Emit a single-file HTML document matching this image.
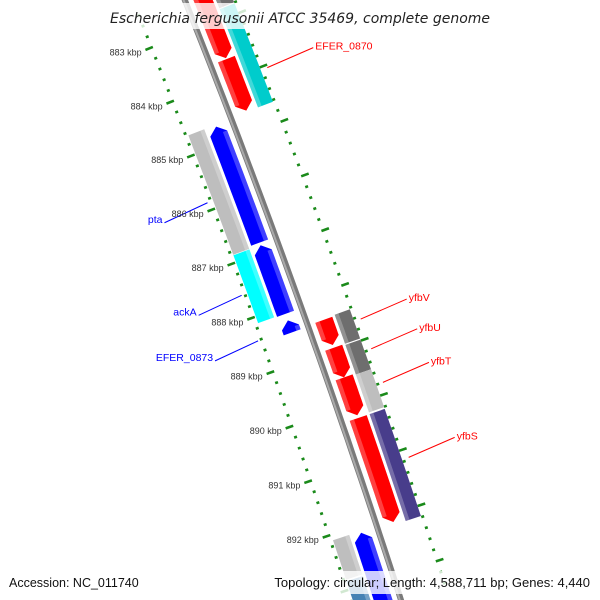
<!DOCTYPE html>
<html><head><meta charset="utf-8"><style>
html,body{margin:0;padding:0;background:#fff;width:600px;height:600px;overflow:hidden;}
svg{display:block;font-family:"DejaVu Sans","Liberation Sans",sans-serif;overflow:hidden;}
</style></head><body>
<svg id="map" width="600" height="600" viewBox="0 0 600 600" xmlns="http://www.w3.org/2000/svg">
<g id="ticks"></g>
<g id="backbone"></g>
<g id="features"></g>
<g id="labels"></g>
<g id="ticklabels"></g>
<rect x="108" y="3" width="384" height="26" fill="#fff" opacity="0.8"/>
<text x="300" y="23" text-anchor="middle" font-size="14" font-style="italic" fill="#222">Escherichia fergusonii ATCC 35469, complete genome</text>
<rect x="258" y="571" width="336" height="23" fill="#fff" opacity="0.8"/>
<text x="9" y="587" font-size="12.5" fill="#111" font-family="Liberation Sans, sans-serif">Accession: NC_011740</text>
<text x="590" y="587" text-anchor="end" font-size="13" fill="#111" font-family="Liberation Sans, sans-serif">Topology: circular; Length: 4,588,711 bp; Genes: 4,440</text>
</svg>
<script>
// feature data: [start kbp, end kbp]
const featStart = [882.3, 883.66, 888.45, 888.96, 889.50, 890.24, 882.3, 882.82, 888.43, 888.98, 889.52, 890.24, 884.68, 886.87, 888.25, 892.13, 884.65, 886.87, 892.10, 892.85];
const featEnd   = [883.64, 884.61, 888.91, 889.50, 890.19, 892.13, 882.80, 884.63, 888.96, 889.52, 890.21, 892.18, 886.82, 888.13, 888.47, 893.6, 886.86, 888.12, 892.82, 893.6];
const featRing  = ['r1','r1','r1','r1','r1','r1','r2','r2','r2','r2','r2','r2','l1','l1','l1','l1','l2','l2','l2','l2'];
const featColor = ['#ff0000','#ff0000','#ff0000','#ff0000','#ff0000','#ff0000','#6e6e6e','#00cccc','#6e6e6e','#6e6e6e','#bebebe','#483d8b','#0000ff','#0000ff','#0000ff','#0000ff','#bebebe','#00ffff','#bebebe','#4682b4'];
const featArrow = ['end','end','end','end','end','end','none','none','none','none','none','none','start','start','start','start','none','none','none','none'];
const tickMin = 882.4, tickMax = 893.4;
const tickLabelKbp = [883,884,885,886,887,888,889,890,891,892];
const labelText = ['EFER_0870','pta','ackA','EFER_0873','yfbV','yfbU','yfbT','yfbS'];
const labelKbp  = [884.05, 885.86, 887.57, 888.41, 888.65, 889.19, 889.8, 891.16];
const labelSide = [1,-1,-1,-1,1,1,1,1];
const labelColor= ['#ff0000','#0000ff','#0000ff','#0000ff','#ff0000','#ff0000','#ff0000','#ff0000'];

const NS='http://www.w3.org/2000/svg';
const R=9400, PX=58, alpha=Math.atan(0.36), P0=[299,301];
const C=[P0[0]-R*Math.cos(alpha), P0[1]+R*Math.sin(alpha)];
function pt(kbp,r){const th=-alpha+(kbp-888)*PX/R;const rr=R+r;return [C[0]+rr*Math.cos(th),C[1]+rr*Math.sin(th)];}
function mk(tag,attrs,parent){const e=document.createElementNS(NS,tag);for(const k in attrs)e.setAttribute(k,attrs[k]);parent.appendChild(e);return e;}
const ringR={r1:[8,26],r2:[29,45],l1:[-8,-26],l2:[-29,-46]};
function band(a,b,r0,r1){const p=[];const n=8;for(let i=0;i<=n;i++){p.push(pt(a+(b-a)*i/n,r0));}for(let i=n;i>=0;i--){p.push(pt(a+(b-a)*i/n,r1));}return p;}
function ps(p){return p.map(q=>q[0].toFixed(1)+','+q[1].toFixed(1)).join(' ');}

// backbone
const bb=document.getElementById('backbone');
const bp=[];for(let k=882;k<=894;k+=0.25)bp.push(pt(k,0));
const b1=mk('polyline',{points:ps(bp),fill:'none',stroke:'#7a7a7a','stroke-width':6},bb);

const bp2=[];for(let k=882;k<=894;k+=0.25)bp2.push(pt(k,-1.2));
const b2=mk('polyline',{points:ps(bp2),fill:'none',stroke:'#aaaaaa','stroke-width':2},bb);


// features
const fg=document.getElementById('features');
const ah=0.13;
for(let i=0;i<featStart.length;i++){
  const [r0,r1]=ringR[featRing[i]];const a=featStart[i],b=featEnd[i];const rm=(r0+r1)/2;
  let poly;
  if(featArrow[i]==='end'){const h=Math.min(ah,(b-a)*0.8);poly=band(a,b-h,r0,r1);poly.splice(9,0,pt(b,rm));}
  else if(featArrow[i]==='start'){const h=Math.min(ah,(b-a)*0.8);poly=band(a+h,b,r0,r1);poly.push(pt(a,rm));}
  else poly=band(a,b,r0,r1);
  const g=mk('g',{},fg);
  
  
  mk('polygon',{points:ps(poly),fill:featColor[i]},g);
  const hr0=r0, hr1=r0+(r1-r0)*0.25;
  const s=featArrow[i]==='start'?a+Math.min(ah,(b-a)*0.8):a;
  const e=featArrow[i]==='end'?b-Math.min(ah,(b-a)*0.8):b;
  const hl=mk('polygon',{points:ps(band(s,e,hr0,hr1)),fill:'#fff',opacity:0.25},g);
  
}

// ticks
const tg=document.getElementById('ticks');
for(let k=Math.ceil(tickMin*5);k<=tickMax*5;k++){
  const kb=k/5;const major=(k%5===0);
  for(const side of [-1,1]){
    const base=side<0?-47:45;
    const r0=base, r1=base+side*(major?8:3);
    const p=pt(kb,r0),q=pt(kb,r1);
    const l=mk('line',{x1:p[0],y1:p[1],x2:q[0],y2:q[1],stroke:'#1a8a1a','stroke-width':2.6},tg);
    
    
  }
}
const tl=document.getElementById('ticklabels');
for(const k of tickLabelKbp){
  const p=pt(k,-57);
  const t=mk('text',{x:(p[0]-2).toFixed(1),y:(p[1]+5).toFixed(1),'text-anchor':'end','font-size':9,fill:'#333','font-family':'Liberation Sans, sans-serif'},tl);
  t.textContent=k+' kbp';
  
  
}
// feature labels
const lg=document.getElementById('labels');
for(let i=0;i<labelText.length;i++){
  const s=labelSide[i];
  const p=pt(labelKbp[i],s*52);
  const q=s>0?[p[0]+46,p[1]-20]:[p[0]-43,p[1]+20];
  const l=mk('line',{x1:p[0],y1:p[1],x2:q[0],y2:q[1],stroke:labelColor[i],'stroke-width':1},lg);
  
  
  const t=mk('text',{x:(q[0]+s*2).toFixed(1),y:(q[1]+(s>0?2:0)).toFixed(1),'text-anchor':s>0?'start':'end','font-size':10.5,fill:labelColor[i],'font-family':'Liberation Sans, sans-serif'},lg);
  t.textContent=labelText[i];
  
  
}
</script>
</body></html>
